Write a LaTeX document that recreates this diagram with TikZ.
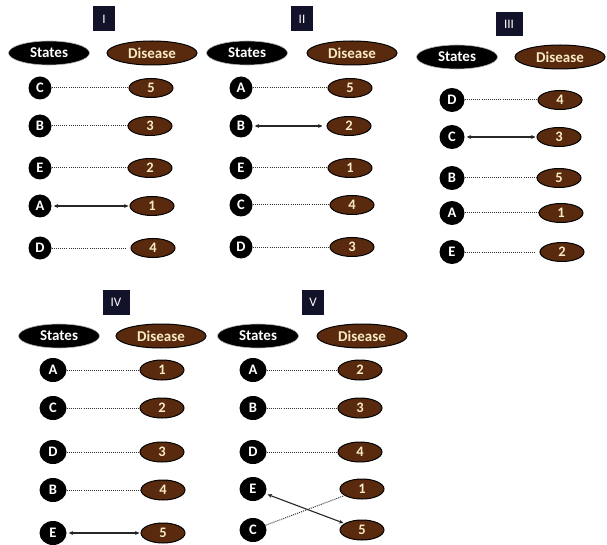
\documentclass[tikz,border=0pt]{standalone}
\usepackage{fontspec}
\setmainfont{Carlito}
\usetikzlibrary{shapes.geometric,arrows.meta}
\definecolor{navybox}{HTML}{12122A}
\definecolor{dbrown}{HTML}{5A2A0E}
\definecolor{cream}{HTML}{F8EBC4}
\tikzset{
  titlebox/.style={rectangle,fill=navybox,text=white,inner sep=0pt,minimum width=22pt,minimum height=25pt,font=\fontsize{13}{13}\selectfont},
  stateshead/.style={ellipse,fill=black,draw=gray!60,line width=0.6pt,inner sep=0pt,minimum width=81pt,minimum height=24pt,text=white,font=\fontsize{15}{15}\selectfont\bfseries},
  dishead/.style={ellipse,fill=dbrown,draw=black,line width=1pt,inner sep=0pt,minimum width=90pt,minimum height=24pt,text=cream,font=\fontsize{15}{15}\selectfont\bfseries},
  stc/.style={ellipse,fill=black,inner sep=0pt,minimum width=23pt,minimum height=23pt,text=white,font=\fontsize{14.5}{14.5}\selectfont\bfseries},
  dis/.style={ellipse,fill=dbrown,draw=black,line width=1pt,inner sep=0pt,minimum width=44pt,minimum height=19pt,text=cream,font=\fontsize{14.5}{14.5}\selectfont\bfseries},
  dotlink/.style={dash pattern=on 1pt off 1.1pt,line width=1pt,draw=black!80},
  arrlink/.style={{Stealth[length=4.5pt,width=4pt]}-{Stealth[length=4.5pt,width=4pt]},line width=1.1pt,draw=black!85,shorten <=2pt,shorten >=1pt}
}
\begin{document}
\begin{tikzpicture}[x=1pt,y=-1pt]
\useasboundingbox (0,0) rectangle (607,545);
% Panel I
\node[titlebox] (t1) at (104,19) {I};
\node[stateshead] (s1) at (49,53) {States};
\node[dishead] (d1) at (152,53) {Disease};
\node[stc] (aC) at (40,88) {C};
\node[stc] (aB) at (40,126) {B};
\node[stc] (aE) at (40,168) {E};
\node[stc] (aA) at (40,206) {A};
\node[stc] (aD) at (40,248) {D};
\node[dis] (a5) at (151,88) {5};
\node[dis] (a3) at (150,126) {3};
\node[dis] (a2) at (150,168) {2};
\node[dis] (a1) at (152,206) {1};
\node[dis] (a4) at (153,248) {4};
\draw[dotlink] (aC) -- (a5);
\draw[dotlink] (aB) -- (a3);
\draw[dotlink] (aE) -- (a2);
\draw[arrlink] (aA) -- (a1);
\draw[dotlink,shorten >=5pt] (aD) -- (a4);
% Panel II
\node[titlebox] (t2) at (302,19) {II};
\node[stateshead] (s2) at (247,53) {States};
\node[dishead] (d2) at (352,53) {Disease};
\node[stc] (bA) at (241,88) {A};
\node[stc] (bB) at (241,126) {B};
\node[stc] (bE) at (241,168) {E};
\node[stc] (bC) at (241,205) {C};
\node[stc] (bD) at (241,247) {D};
\node[dis] (b5) at (350,88) {5};
\node[dis] (b2) at (349,126) {2};
\node[dis] (b1) at (350,168) {1};
\node[dis] (b4) at (352,205) {4};
\node[dis] (b3) at (352,247) {3};
\draw[dotlink] (bA) -- (b5);
\draw[arrlink,shorten >=4pt] (bB) -- (b2);
\draw[dotlink] (bE) -- (b1);
\draw[dotlink] (bC) -- (b4);
\draw[dotlink] (bD) -- (b3);
% Panel III
\node[titlebox,minimum width=27pt,minimum height=24pt] (t3) at (509,24) {III};
\node[stateshead] (s3) at (457,57) {States};
\node[dishead] (d3) at (560,57) {Disease};
\node[stc,minimum width=25pt,minimum height=24pt] (cD) at (452,100) {D};
\node[stc,minimum width=25pt,minimum height=24pt] (cC) at (452,137) {C};
\node[stc,minimum width=25pt,minimum height=24pt] (cB) at (452,178) {B};
\node[stc,minimum width=25pt,minimum height=24pt] (cA) at (452,213) {A};
\node[stc,minimum width=25pt,minimum height=24pt] (cE) at (452,252) {E};
\node[dis] (c4) at (560,100) {4};
\node[dis] (c3) at (559,137) {3};
\node[dis] (c5) at (559,178) {5};
\node[dis] (c1) at (561,213) {1};
\node[dis] (c2) at (562,252) {2};
\draw[dotlink] (cD) -- (c4);
\draw[arrlink] (cC) -- (c3);
\draw[dotlink] (cB) -- (c5);
\draw[dotlink] (cA) -- (c1);
\draw[dotlink,shorten >=5pt] (cE) -- (c2);
% Panel IV
\node[titlebox,minimum width=27pt] (t4) at (116,302) {IV};
\node[stateshead] (s4) at (59,336) {States};
\node[dishead] (d4) at (161,336) {Disease};
\node[stc,minimum width=27pt,minimum height=24pt] (dA) at (53,370) {A};
\node[stc,minimum width=27pt,minimum height=24pt] (dC) at (53,408) {C};
\node[stc,minimum width=27pt,minimum height=24pt] (dD) at (53,452) {D};
\node[stc,minimum width=27pt,minimum height=24pt] (dB) at (53,490) {B};
\node[stc,minimum width=27pt,minimum height=24pt] (dE) at (53,533) {E};
\node[dis,minimum height=20pt] (d1n) at (162,370) {1};
\node[dis,minimum height=20pt] (d2n) at (162,408) {2};
\node[dis,minimum height=20pt] (d3n) at (162,452) {3};
\node[dis,minimum height=20pt] (d4n) at (163,490) {4};
\node[dis,minimum height=20pt] (d5n) at (163,533) {5};
\draw[dotlink] (dA) -- (d1n);
\draw[dotlink] (dC) -- (d2n);
\draw[dotlink] (dD) -- (d3n);
\draw[dotlink] (dB) -- (d4n);
\draw[arrlink] (dE) -- (d5n);
% Panel V
\node[titlebox] (t5) at (313,302) {V};
\node[stateshead] (s5) at (258,336) {States};
\node[dishead] (d5) at (362,336) {Disease};
\node[stc,minimum width=27pt,minimum height=24pt] (eA) at (253,370) {A};
\node[stc,minimum width=27pt,minimum height=24pt] (eB) at (253,408) {B};
\node[stc,minimum width=27pt,minimum height=24pt] (eD) at (253,452) {D};
\node[stc,minimum width=27pt,minimum height=24pt] (eE) at (253,489) {E};
\node[stc,minimum width=27pt,minimum height=24pt] (eC) at (253,530) {C};
\node[dis,minimum height=20pt] (e2) at (360,370) {2};
\node[dis,minimum height=20pt] (e3) at (360,408) {3};
\node[dis,minimum height=20pt] (e4) at (360,452) {4};
\node[dis,minimum height=20pt] (e1) at (362,489) {1};
\node[dis,minimum height=20pt] (e5) at (362,530) {5};
\draw[dotlink] (eA) -- (e2);
\draw[dotlink] (eB) -- (e3);
\draw[dotlink] (eD) -- (e4);
\draw[dotlink] (eC) -- (e1);
\draw[arrlink] (eE) -- (e5);
\end{tikzpicture}
\end{document}
